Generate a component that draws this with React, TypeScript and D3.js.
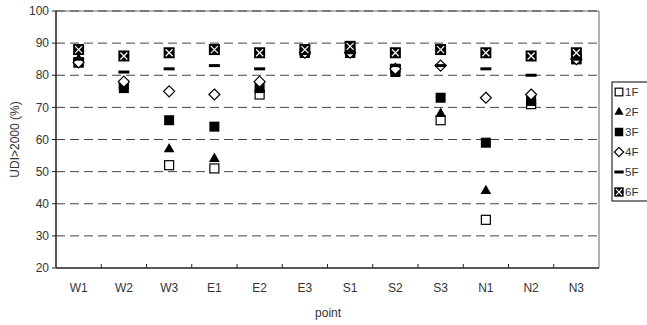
import * as d3 from "d3";

const points = ["W1", "W2", "W3", "E1", "E2", "E3", "S1", "S2", "S3", "N1", "N2", "N3"];
const floors = ["1F", "2F", "3F", "4F", "5F", "6F"];
const f1 = [84, 77, 52, 51, 74, 87, 87, 82, 66, 35, 71, 85];
const f2 = [85, 77, 57, 54, 76, 87, 87, 82, 68, 44, 72, 85];
const f3 = [84, 76, 66, 64, 76, 87, 87, 81, 73, 59, 72, 85];
const f4 = [84, 78, 75, 74, 78, 87, 87, 82, 83, 73, 74, 85];
const f5 = [85, 81, 82, 83, 82, 87, 87, 83, 83, 82, 80, 85];
const f6 = [88, 86, 87, 88, 87, 88, 89, 87, 88, 87, 86, 87];
const yTicks = [20, 30, 40, 50, 60, 70, 80, 90, 100];

const series = [f1, f2, f3, f4, f5, f6];

const width = 647;
const height = 325;
const left = 56;
const right = 599;
const top = 11;
const bottom = 268;
const font = "'Liberation Sans', Arial, sans-serif";
const txt = "#333";

const Marker = ({ kind, x, y, s = 1 }) => {
    if (kind === 0) {
        return <rect x={x - 4.5 * s} y={y - 4.5 * s} width={9 * s} height={9 * s} fill="#fff" stroke="#000" strokeWidth={1.2} />;
    }
    if (kind === 1) {
        const tri = d3.symbol(d3.symbolTriangle, 50 * s * s)();
        return <path d={tri} transform={`translate(${x},${y})`} fill="#000" />;
    }
    if (kind === 2) {
        return <rect x={x - 5 * s} y={y - 5 * s} width={10 * s} height={10 * s} fill="#000" />;
    }
    if (kind === 3) {
        const r = 5.5 * s;
        return (
            <path
                d={`M${x},${y - r}L${x + r},${y}L${x},${y + r}L${x - r},${y}Z`}
                fill="#fff"
                stroke="#000"
                strokeWidth={1.2}
            />
        );
    }
    if (kind === 4) {
        return <rect x={x - 5.5 * s} y={y - 1.5} width={11 * s} height={3} fill="#000" />;
    }
    const h = 5.5 * s;
    const c = 3.5 * s;
    return (
        <g>
            <rect x={x - h} y={y - h} width={2 * h} height={2 * h} fill="#000" />
            <path
                d={`M${x - c},${y - c}L${x + c},${y + c}M${x + c},${y - c}L${x - c},${y + c}`}
                stroke="#fff"
                strokeWidth={1.2}
            />
        </g>
    );
};

const App = () => {
    const x = d3.scaleBand().domain(points).range([left, right]);
    const y = d3.scaleLinear().domain([20, 100]).range([bottom, top]);
    const cx = (p) => x(p) + x.bandwidth() / 2;

    return (
        <svg width={width} height={height} style={{ position: "absolute", left: 0, top: 0 }}>
            <rect x={0} y={0} width={width} height={height} fill="#fff" />
            {/* frame */}
            <line x1={left} x2={right} y1={top} y2={top} stroke="#999" strokeWidth={1.5} />
            <line x1={right} x2={right} y1={top} y2={bottom} stroke="#999" strokeWidth={1.5} />
            {/* grid */}
            {yTicks.filter((t) => t > 20).map((t) => (
                <line
                    key={`g-${t}`}
                    x1={left}
                    x2={right}
                    y1={y(t)}
                    y2={y(t)}
                    stroke="#444"
                    strokeWidth={1}
                    strokeDasharray="9,5"
                />
            ))}
            {/* axes */}
            <line x1={left} x2={left} y1={top} y2={bottom} stroke="#222" strokeWidth={1.5} />
            <line x1={left} x2={right} y1={bottom} y2={bottom} stroke="#222" strokeWidth={1.5} />
            {yTicks.map((t) => (
                <g key={`yt-${t}`}>
                    <line x1={left - 4} x2={left} y1={y(t)} y2={y(t)} stroke="#222" />
                    <text
                        x={left - 7}
                        y={y(t)}
                        dy="0.35em"
                        textAnchor="end"
                        fontFamily={font}
                        fontSize={12}
                        fill={txt}
                    >
                        {t}
                    </text>
                </g>
            ))}
            {points.map((p, i) => (
                <g key={`xt-${p}`}>
                    {i > 0 && <line x1={x(p)} x2={x(p)} y1={bottom} y2={bottom - 4} stroke="#222" />}
                    <text x={cx(p)} y={292} textAnchor="middle" fontFamily={font} fontSize={12} fill={txt}>
                        {p}
                    </text>
                </g>
            ))}
            <text x={cx("S1") - 22} y={317} textAnchor="middle" fontFamily={font} fontSize={12} fill={txt}>
                point
            </text>
            <text
                transform={`translate(19,${(top + bottom) / 2}) rotate(-90)`}
                textAnchor="middle"
                fontFamily={font}
                fontSize={12}
                fill={txt}
            >
                UDI&gt;2000 (%)
            </text>
            {/* markers */}
            {series.map((s, k) => (
                <g key={`s-${k}`}>
                    {s.map((v, i) => (
                        <Marker key={`m-${k}-${i}`} kind={k} x={cx(points[i])} y={y(v)} />
                    ))}
                </g>
            ))}
            {/* legend */}
            <rect x={612} y={82} width={40} height={119} fill="#fff" stroke="#000" strokeWidth={1} />
            {floors.map((f, k) => (
                <g key={`l-${f}`}>
                    <Marker kind={k} x={619} y={92 + k * 20} s={0.85} />
                    <text x={625} y={92 + k * 20} dy="0.35em" fontFamily={font} fontSize={11.5} fill={txt}>
                        {f}
                    </text>
                </g>
            ))}
        </svg>
    );
};

export default App;
